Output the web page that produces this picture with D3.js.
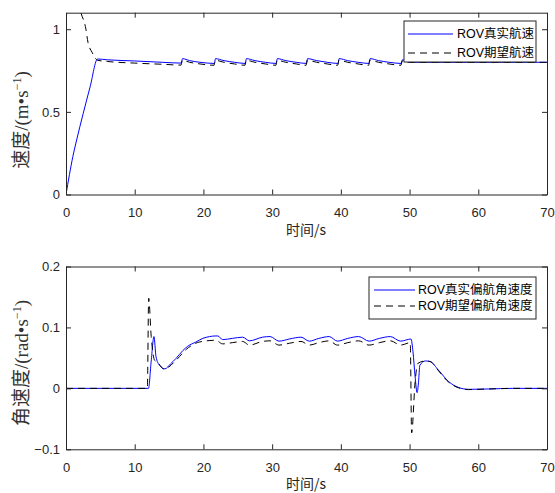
<!DOCTYPE html>
<html>
<head>
<meta charset="utf-8">
<script src="https://cdn.jsdelivr.net/npm/d3@7.9.0/dist/d3.min.js"></script>
<style>
  body { margin: 0; background: #fff; }
  svg { display: block; }
  .tick text { font-family: 'Liberation Sans', Arial, sans-serif; font-size: 13px; fill: #262626; }
  .domain { stroke: #262626; }
  .tick line { stroke: #262626; }
</style>
</head>
<body>
<svg id="chart" width="555" height="493"></svg>
<script>
// ====== Data: speed (top plot) ======
const tSpeedTrue = [0, 0.5, 1, 1.55, 2.5, 3.5, 4.6, 6, 10, 14, 16.8, 16.95, 18, 19.5, 21.6, 21.75, 23, 24.5, 26.1, 26.25,
  27.5, 29, 30.6, 30.75, 32, 33.5, 35.0, 35.15, 36.5, 38, 39.6, 39.75, 41, 42.5, 44.1, 44.25, 45.5, 47, 48.8, 48.95,
  50, 60, 70];
const vSpeedTrue = [0, 0.12, 0.23, 0.33, 0.49, 0.65, 0.82, 0.815, 0.808, 0.8, 0.795, 0.822, 0.81, 0.8, 0.793, 0.822, 0.81,
  0.8, 0.793, 0.822, 0.81, 0.8, 0.793, 0.822, 0.81, 0.8, 0.793, 0.822, 0.81, 0.8, 0.793, 0.822, 0.81, 0.8, 0.793,
  0.822, 0.81, 0.8, 0.793, 0.815, 0.8, 0.8, 0.8];

const tSpeedRef = [0, 1, 2.17, 2.9, 3.2, 3.8, 4.6, 6, 10, 14, 16.75, 16.9, 18, 19.5, 21.55, 21.7, 23, 24.5, 26.05,
  26.2, 27.5, 29, 30.55, 30.7, 32, 33.5, 34.95, 35.1, 36.5, 38, 39.55, 39.7, 41, 42.5, 44.05, 44.2, 45.5, 47, 48.75,
  48.9, 50, 60, 70];
const vSpeedRef = [1.45, 1.28, 1.1, 1.0, 0.92, 0.86, 0.812, 0.805, 0.795, 0.788, 0.783, 0.812, 0.8, 0.79, 0.782, 0.812,
  0.8, 0.79, 0.782, 0.812, 0.8, 0.79, 0.782, 0.812, 0.8, 0.79, 0.782, 0.812, 0.8, 0.79, 0.782, 0.812, 0.8, 0.79,
  0.782, 0.812, 0.8, 0.79, 0.782, 0.808, 0.8, 0.8, 0.8];

// ====== Data: yaw rate (bottom plot) ======
const tYawTrue = [0, 12.0, 12.4, 12.8, 13.1, 13.6, 14.4, 15.2, 16.0, 17.0, 17.7, 18.9, 19.9, 20.9, 21.7, 22.1, 22.8,
  24.2, 25.7, 26.7, 28.6, 29.7, 31.0, 32.5, 34.2, 35.4, 36.8, 38.3, 39.5, 41, 42.6, 44.1, 45.6, 47.2, 48.7, 50.2,
  50.5, 50.8, 51.1, 51.3, 51.5, 52.3, 53.0, 54.2, 55.7, 57.1, 58.6, 61.5, 65, 70];
const wYawTrue = [0, 0, 0.045, 0.085, 0.052, 0.038, 0.032, 0.04, 0.049, 0.062, 0.069, 0.076, 0.082, 0.085, 0.086,
  0.086, 0.08, 0.082, 0.084, 0.078, 0.084, 0.085, 0.0775, 0.081, 0.084, 0.0775, 0.082, 0.085, 0.0775, 0.082, 0.085,
  0.0775, 0.082, 0.085, 0.0775, 0.081, 0.06, 0.02, -0.007, 0.01, 0.038, 0.045, 0.044, 0.03, 0.011, 0.0016, -0.0016,
  -0.001, 0, 0];

const tYawRef = [0, 11.84, 12.03, 12.4, 12.9, 13.2, 14.3, 16.0, 17.5, 19.4, 21.8, 22.8, 24.2, 25.7, 26.7, 28.6, 29.7,
  31.0, 32.5, 34.2, 35.4, 36.8, 38.3, 39.5, 41, 42.6, 44.1, 45.6, 47.2, 48.7, 50.1, 50.3, 50.8, 51.2, 52.3, 53.0,
  54.2, 55.7, 57.1, 58.6, 61.5, 65, 70];
const wYawRef = [0, 0, 0.148, 0.085, 0.046, 0.044, 0.0316, 0.046, 0.064, 0.076, 0.079, 0.073, 0.075, 0.077, 0.071,
  0.077, 0.078, 0.071, 0.074, 0.077, 0.071, 0.075, 0.078, 0.071, 0.075, 0.078, 0.071, 0.075, 0.078, 0.071, 0.075,
  -0.073, 0.01, 0.041, 0.045, 0.044, 0.029, 0.01, 0.001, -0.002, -0.001, 0, 0];

// ====== Axis ticks and labels ======
const xTicks = [0, 10, 20, 30, 40, 50, 60, 70];
const speedTicks = [0, 0.5, 1];
const yawTicks = [-0.1, 0, 0.1, 0.2];
const xLabel = '时间/s';
const speedLegend = ['ROV真实航速', 'ROV期望航速'];
const yawLegend = ['ROV真实偏航角速度', 'ROV期望偏航角速度'];

const svg = d3.select('#chart');

// ====== One panel (box axes, two lines, legend) ======
function drawPanel(opts) {
  const { top, bottom, yDomain, yTicks, yFmt, series, legend, ylabel, id } = opts;
  const left = 66, right = 547;
  const x = d3.scaleLinear().domain([0, 70]).range([left, right]);
  const y = d3.scaleLinear().domain(yDomain).range([bottom, top]);

  svg.append('clipPath').attr('id', id)
    .append('rect').attr('x', left).attr('y', top).attr('width', right - left).attr('height', bottom - top);

  const line = d3.line().x((d) => x(d[0])).y((d) => y(d[1])).curve(d3.curveMonotoneX);

  series.forEach((s) => {
    svg.append('path')
      .datum(d3.zip(s.t, s.v))
      .attr('clip-path', `url(#${id})`)
      .attr('fill', 'none')
      .attr('stroke', s.color)
      .attr('stroke-width', 1)
      .attr('stroke-dasharray', s.dash)
      .attr('d', line);
  });

  // box with inward ticks
  svg.append('g').attr('transform', `translate(0,${bottom})`)
    .call(d3.axisBottom(x).tickValues(xTicks).tickSize(-5).tickPadding(13).tickSizeOuter(0));
  svg.append('g').attr('transform', `translate(0,${top})`)
    .call(d3.axisTop(x).tickValues(xTicks).tickSize(-5).tickFormat('').tickSizeOuter(0));
  svg.append('g').attr('transform', `translate(${left},0)`)
    .call(d3.axisLeft(y).tickValues(yTicks).tickSize(-5).tickPadding(6).tickFormat(yFmt).tickSizeOuter(0));
  svg.append('g').attr('transform', `translate(${right},0)`)
    .call(d3.axisRight(y).tickValues(yTicks).tickSize(-5).tickFormat('').tickSizeOuter(0));

  // x label
  svg.append('text')
    .attr('x', 306).attr('y', bottom + 40)
    .attr('text-anchor', 'middle')
    .attr('font-family', "'Noto Sans CJK SC', sans-serif")
    .attr('font-size', 14)
    .attr('fill', '#262626')
    .text(xLabel);

  // y label (rotated, with superscript)
  const yl = svg.append('text')
    .attr('transform', `translate(${ylabel.x},${ylabel.y}) rotate(-90)`)
    .attr('text-anchor', 'middle')
    .attr('font-family', "'Liberation Serif', 'Noto Sans CJK SC', serif")
    .attr('font-size', 19)
    .attr('fill', '#333');
  yl.append('tspan').text(ylabel.main);
  yl.append('tspan').attr('baseline-shift', 'super').attr('font-size', 12).text('−1');
  yl.append('tspan').text(')');

  // legend
  const lg = legend;
  svg.append('rect')
    .attr('x', lg.x0).attr('y', lg.y0).attr('width', lg.x1 - lg.x0).attr('height', lg.y1 - lg.y0)
    .attr('fill', '#fff').attr('stroke', '#262626').attr('stroke-width', 1);
  series.forEach((s, i) => {
    const ry = lg.rows[i];
    svg.append('line')
      .attr('x1', lg.lx0).attr('x2', lg.lx1).attr('y1', ry).attr('y2', ry)
      .attr('stroke', s.color).attr('stroke-width', 1).attr('stroke-dasharray', s.dash);
    svg.append('text')
      .attr('x', lg.tx).attr('y', ry).attr('dy', '0.35em')
      .attr('font-family', "'Liberation Sans', 'Noto Sans CJK SC', sans-serif")
      .attr('font-size', 12.5)
      .attr('fill', '#000')
      .text(lg.labels[i]);
  });
}

// ====== Top: speed ======
drawPanel({
  id: 'clipTop', top: 12.7, bottom: 194.5, yDomain: [0, 1.1], yTicks: speedTicks,
  yFmt: d3.format('~g'),
  series: [
    { t: tSpeedTrue, v: vSpeedTrue, color: '#0000ff', dash: null },
    { t: tSpeedRef, v: vSpeedRef, color: '#000', dash: '7,5' },
  ],
  legend: { x0: 404, x1: 536, y0: 21, y1: 62, rows: [34, 53], lx0: 408, lx1: 453, tx: 457, labels: speedLegend },
  ylabel: { x: 28, y: 120, main: '速度/(m•s' },
});

// ====== Bottom: yaw rate ======
drawPanel({
  id: 'clipBot', top: 266.5, bottom: 449.3, yDomain: [-0.1, 0.2], yTicks: yawTicks,
  yFmt: d3.format('~g'),
  series: [
    { t: tYawTrue, v: wYawTrue, color: '#0000ff', dash: null },
    { t: tYawRef, v: wYawRef, color: '#000', dash: '7,5' },
  ],
  legend: { x0: 369, x1: 536, y0: 277, y1: 319, rows: [290, 306], lx0: 374, lx1: 415, tx: 418, labels: yawLegend },
  ylabel: { x: 28, y: 363, main: '角速度/(rad•s' },
});
</script>
</body>
</html>
